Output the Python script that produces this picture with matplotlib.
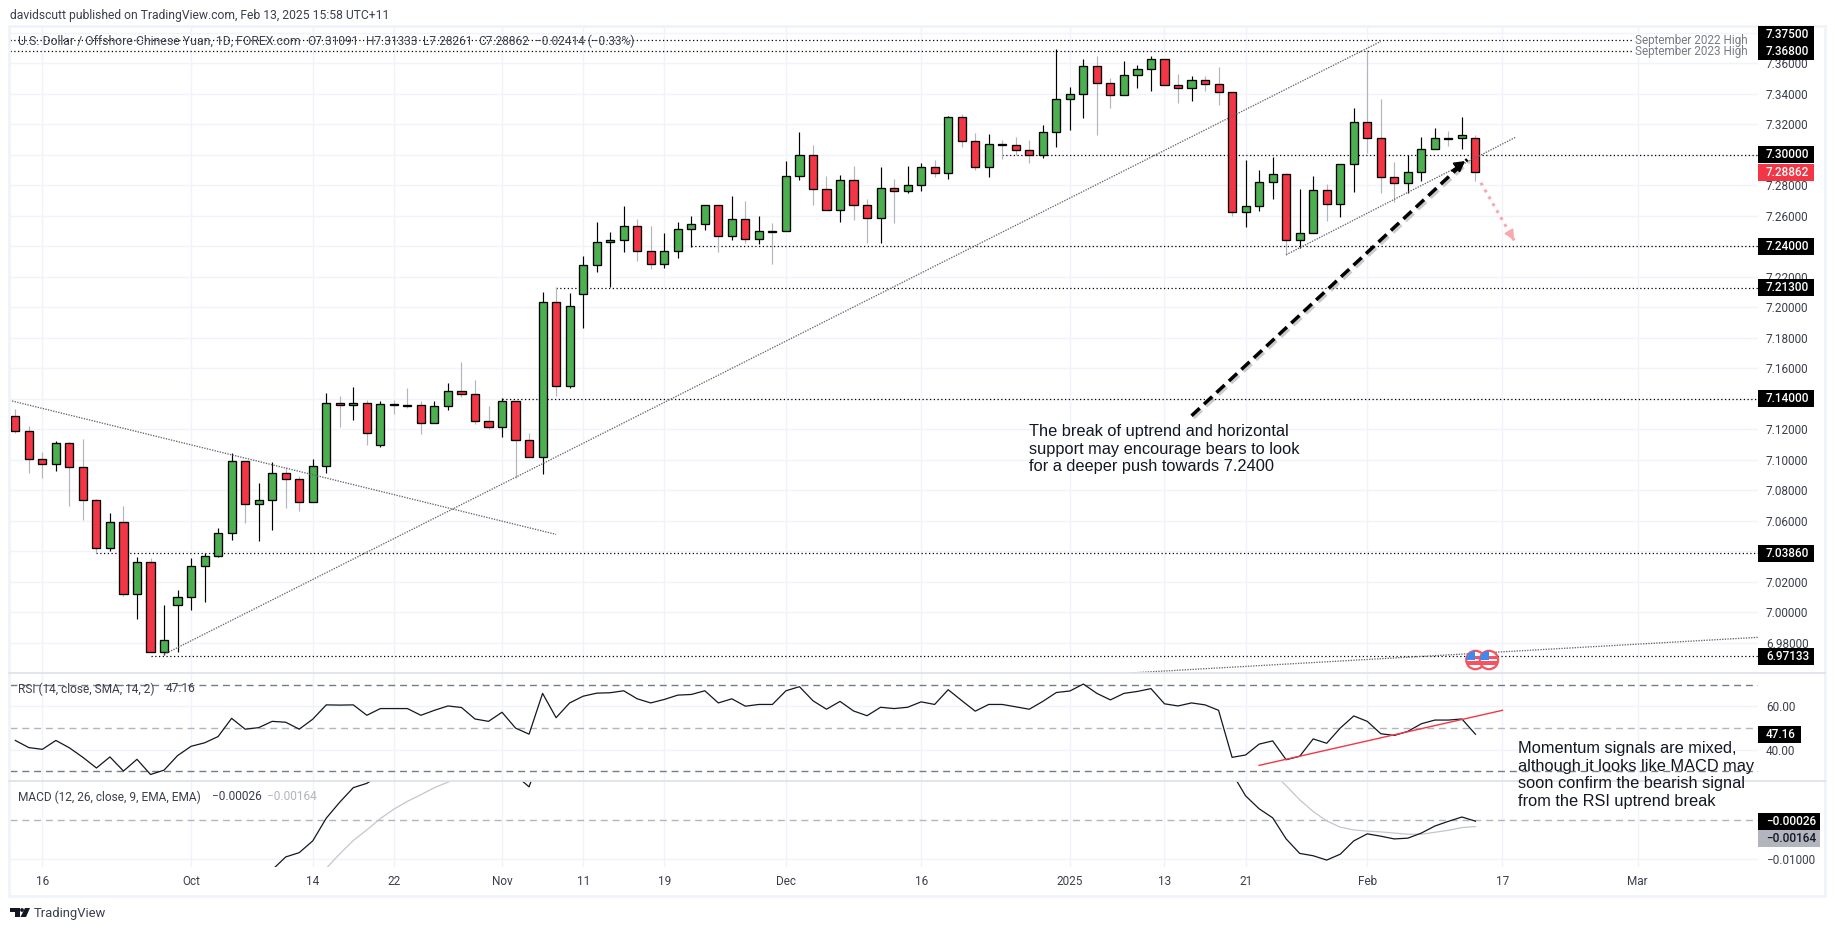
import numpy as np
import matplotlib
matplotlib.use("Agg")
import matplotlib.pyplot as plt
import matplotlib.patheffects as pe
from matplotlib.lines import Line2D
from matplotlib.patches import Rectangle, Circle, Polygon
from matplotlib.transforms import IdentityTransform

plt.rcParams["font.family"] = ["Roboto", "DejaVu Sans"]

# daily candles, index 0 is 16 Sep 2024
days = list(range(-2, 107))
opens = [7.1285, 7.1187, 7.1003, 7.0970, 7.1108, 7.0951, 7.0734, 7.0420, 7.0590, 7.0118, 7.0328,
         6.9737, 7.0046, 7.0098, 7.0301, 7.0367, 7.0518, 7.0990, 7.0708, 7.0734, 7.0911, 7.0872,
         7.0721, 7.0957, 7.1370, 7.1362, 7.1370, 7.1095, 7.1364, 7.1357, 7.1357, 7.1239, 7.1351,
         7.1449, 7.1429, 7.1252, 7.1213, 7.1383, 7.1128, 7.1016, 7.2032, 7.1482, 7.2089, 7.2275,
         7.2426, 7.2439, 7.2531, 7.2367, 7.2282, 7.2367, 7.2511, 7.2544, 7.2669, 7.2465, 7.2577,
         7.2446, 7.2500, 7.2498, 7.2859, 7.2997, 7.2774, 7.2636, 7.2833, 7.2669, 7.2583, 7.2780,
         7.2761, 7.2800, 7.2918, 7.2879, 7.3246, 7.3088, 7.2918, 7.3069, 7.3062, 7.3029, 7.3001,
         7.3147, 7.3364, 7.3397, 7.3580, 7.3469, 7.3390, 7.3521, 7.3561, 7.3626, 7.3456, 7.3436,
         7.3488, 7.3462, 7.3410, 7.2623, 7.2662, 7.2819, 7.2872, 7.2439, 7.2485, 7.2767, 7.2675,
         7.2937, 7.3213, 7.3108, 7.2852, 7.2813, 7.2885, 7.3036, 7.3108, 7.3108, 7.31091]
highs = [7.1333, 7.1222, 7.1051, 7.1121, 7.1115, 7.1136, 7.0743, 7.0651, 7.0697, 7.0361, 7.0354,
         7.0046, 7.0144, 7.0354, 7.0391, 7.0551, 7.1042, 7.0990, 7.0846, 7.0983, 7.0955, 7.0894,
         7.1003, 7.1436, 7.1418, 7.1475, 7.1390, 7.1386, 7.1390, 7.1471, 7.1386, 7.1386, 7.1501,
         7.1639, 7.1523, 7.1353, 7.1403, 7.1383, 7.1174, 7.2098, 7.2131, 7.2091, 7.2334, 7.2557,
         7.2491, 7.2662, 7.2577, 7.2531, 7.2485, 7.2559, 7.2597, 7.2669, 7.2669, 7.2728, 7.2695,
         7.2597, 7.2551, 7.2959, 7.3147, 7.3062, 7.2861, 7.2865, 7.2927, 7.2708, 7.2920, 7.2839,
         7.2927, 7.2944, 7.2964, 7.3255, 7.3265, 7.3143, 7.3134, 7.3095, 7.3115, 7.3095, 7.3193,
         7.3692, 7.3442, 7.3626, 7.3646, 7.3501, 7.3613, 7.3587, 7.3646, 7.3626, 7.3528, 7.3515,
         7.3515, 7.3574, 7.3410, 7.2964, 7.2898, 7.2986, 7.2878, 7.2774, 7.2859, 7.2806, 7.2937,
         7.3305, 7.3687, 7.3364, 7.2951, 7.2996, 7.3114, 7.3174, 7.3156, 7.3246, 7.31333]
lows = [7.1176, 7.0916, 7.0883, 7.0929, 7.0699, 7.0605, 7.0387, 7.0404, 7.0109, 6.9958, 6.9737,
        6.9718, 6.9742, 7.0017, 7.0070, 7.0361, 7.0476, 7.0588, 7.0470, 7.0542, 7.0686, 7.0667,
        7.0721, 7.0916, 7.1217, 7.1263, 7.1097, 7.1086, 7.1302, 7.1342, 7.1171, 7.1239, 7.1329,
        7.1414, 7.1237, 7.1204, 7.1152, 7.0878, 7.1016, 7.0907, 7.1418, 7.1471, 7.1864, 7.2234,
        7.2131, 7.2365, 7.2306, 7.2253, 7.2260, 7.2326, 7.2398, 7.2509, 7.2365, 7.2441, 7.2422,
        7.2417, 7.2286, 7.2498, 7.2837, 7.2673, 7.2636, 7.2562, 7.2575, 7.2424, 7.2424, 7.2555,
        7.2752, 7.2765, 7.2857, 7.2844, 7.3053, 7.2903, 7.2857, 7.2975, 7.2997, 7.2948, 7.2981,
        7.3053, 7.3165, 7.3241, 7.3132, 7.3309, 7.3390, 7.3440, 7.3421, 7.3456, 7.3342, 7.3355,
        7.3421, 7.3329, 7.2599, 7.2529, 7.2634, 7.2712, 7.2345, 7.2387, 7.2485, 7.2568, 7.2594,
        7.2758, 7.3010, 7.2752, 7.2693, 7.2752, 7.2830, 7.3036, 7.3058, 7.3040, 7.28261]
closes = [7.1187, 7.1003, 7.0970, 7.1108, 7.0951, 7.0734, 7.0420, 7.0590, 7.0118, 7.0328, 6.9737,
          6.9816, 7.0098, 7.0301, 7.0367, 7.0518, 7.0990, 7.0708, 7.0734, 7.0911, 7.0872, 7.0721,
          7.0957, 7.1370, 7.1362, 7.1370, 7.1174, 7.1364, 7.1362, 7.1355, 7.1239, 7.1351, 7.1449,
          7.1429, 7.1252, 7.1213, 7.1383, 7.1128, 7.1016, 7.2032, 7.1482, 7.2006, 7.2275, 7.2426,
          7.2439, 7.2531, 7.2367, 7.2282, 7.2367, 7.2511, 7.2544, 7.2669, 7.2465, 7.2577, 7.2446,
          7.2498, 7.2496, 7.2859, 7.2997, 7.2774, 7.2636, 7.2833, 7.2669, 7.2583, 7.2780, 7.2761,
          7.2800, 7.2918, 7.2879, 7.3246, 7.3088, 7.2918, 7.3069, 7.3066, 7.3029, 7.3001, 7.3147,
          7.3364, 7.3397, 7.3580, 7.3469, 7.3390, 7.3521, 7.3561, 7.3626, 7.3456, 7.3436, 7.3488,
          7.3462, 7.3410, 7.2623, 7.2662, 7.2819, 7.2872, 7.2439, 7.2485, 7.2767, 7.2675, 7.2937,
          7.3213, 7.3108, 7.2852, 7.2813, 7.2885, 7.3036, 7.3108, 7.3105, 7.3128, 7.28862]

rsi = [44.3, 41.0, 40.2, 44.3, 40.9, 36.5, 31.6, 36.7, 30.2, 35.6, 28.6, 30.6, 37.3, 41.6, 43.2,
       46.1, 54.5, 49.5, 50.2, 53.1, 52.7, 49.5, 54.1, 60.7, 60.6, 60.7, 55.9, 59.0, 59.0, 59.0,
       55.9, 58.2, 60.2, 59.5, 54.2, 53.1, 57.3, 50.0, 47.2, 66.0, 54.8, 61.6, 64.7, 66.1, 66.3,
       67.2, 63.5, 61.6, 63.2, 65.2, 65.5, 67.2, 61.6, 63.5, 60.1, 60.9, 60.9, 67.2, 69.1, 62.6,
       58.7, 62.3, 57.9, 55.7, 59.6, 59.0, 59.6, 62.1, 60.9, 67.7, 62.7, 57.8, 60.9, 60.9, 59.8,
       58.7, 62.3, 66.4, 67.1, 70.3, 66.0, 63.0, 66.0, 66.9, 68.2, 61.2, 60.2, 61.6, 60.7, 58.2,
       36.5, 37.6, 42.6, 44.1, 35.4, 37.0, 45.0, 43.0, 50.0, 55.6, 53.1, 47.4, 46.6, 48.5, 52.0,
       53.7, 53.7, 54.2, 47.16]

# macd runs off the top of its pane for long stretches, only the visible parts are read
macd_days_a = [15, 16, 17, 18, 19, 20, 21, 22, 23, 24, 25, 26]
macd_a = [-0.0179, -0.0153, -0.0127, -0.0094, -0.0083, -0.0053, 0.0005, 0.0046, 0.0083, 0.0094, 0.0116, 0.0135]
macd_days_b = [34, 35, 36, 37]
macd_b = [0.0125, 0.0115, 0.0085, 0.0184]
macd_days_c = [87, 88, 89, 90, 91, 92, 93, 94, 95, 96, 97, 98, 99, 100, 101, 102, 103, 104, 105, 106]
macd_c = [0.0180, 0.0120, 0.0062, 0.0029, 0.0006, -0.0048, -0.0085, -0.0091, -0.0102, -0.0087, -0.0053,
          -0.0035, -0.0041, -0.0048, -0.0046, -0.0033, -0.0015, -0.0003, 0.0008, -0.00026]
signal_days_a = [20, 21, 22, 23, 24, 25, 26, 27, 28, 29, 30, 31]
signal_a = [-0.0162, -0.0123, -0.0086, -0.0052, -0.0025, 0.0004, 0.0028, 0.0048, 0.0065, 0.0083, 0.0097, 0.0112]
signal_days_b = [91, 92, 93, 94, 95, 96, 97, 98, 99, 100, 101, 102, 103, 104, 105, 106]
signal_b = [0.0120, 0.0088, 0.0052, 0.0022, -0.0002, -0.0018, -0.0025, -0.0028, -0.0030, -0.0033,
            -0.0036, -0.0036, -0.0031, -0.0026, -0.0019, -0.00164]

level_prices = [7.375, 7.368, 7.30, 7.24, 7.213, 7.14, 7.0386, 6.97133]
level_starts = [-2.43, -2.43, 71, 48, 38, 34, 4, 8]
level_labels = ["7.37500", "7.36800", "7.30000", "7.24000", "7.21300", "7.14000", "7.03860", "6.97133"]

# trendlines as (day, price) pairs
down_days = [-2.43, 38]
down_prices = [7.1390, 7.0511]
up_days = [9, 99]
up_prices = [6.9724, 7.3744]
short_days = [92, 109]
short_prices = [7.2345, 7.3117]
long_days = [80.4, 126.9]
long_prices = [6.9602, 6.9836]
rsi_trend_days = [90, 108]
rsi_trend = [32.8, 58.2]
arrow_days = [85.0, 105.4]
arrow_prices = [7.1289, 7.2970]
pink_days = [106.4, 108.96]
pink_prices = [7.2817, 7.2424]

tick_days = [0, 11, 20, 26, 34, 40, 46, 55, 65, 76, 83, 89, 98, 108, 118]
tick_labels = ["16", "Oct", "14", "22", "Nov", "11", "19", "Dec", "16", "2025", "13", "21", "Feb", "17", "Mar"]
price_ticks = [6.98, 7.00, 7.02, 7.04, 7.06, 7.08, 7.10, 7.12, 7.14, 7.16, 7.18, 7.20, 7.22, 7.24, 7.26,
               7.28, 7.30, 7.32, 7.34, 7.36, 7.38]
# these ticks sit right under a level box in the picture, so they show no text of their own
hidden_ticks = [7.04, 7.14, 7.24, 7.30, 7.38]

W, H = 1835, 931
left, right = 9.5, 1758
main_top, main_bot = 26, 673
rsi_bot = 781
macd_bot = 867
xlim = (-2.43, 126.9)

green = "#4caf50"
red = "#f23645"
grey = "#b2b5be"
grid = "#f0f3fa"
txt = "#3b3f4c"

fig = plt.figure(figsize=(W / 100, H / 100), dpi=100, facecolor="white")


def make_axes(top, bot):
	ax = fig.add_axes([left / W, 1 - bot / H, (right - left) / W, (bot - top) / H])
	for s in ax.spines.values():
		s.set_visible(False)
	ax.set_xlim(*xlim)
	ax.set_xticks(tick_days)
	ax.set_xticklabels(tick_labels)
	ax.yaxis.tick_right()
	ax.tick_params(axis="y", length=0, pad=5.6, labelsize=8.5, labelcolor=txt)
	ax.tick_params(axis="x", length=0, pad=5.5, labelsize=8.5, labelcolor=txt)
	ax.grid(True, color=grid, lw=1)
	ax.set_axisbelow(True)
	return ax


ax = make_axes(main_top, main_bot)
ax_rsi = make_axes(main_bot, rsi_bot)
ax_macd = make_axes(rsi_bot, macd_bot)

# main pane
ax.set_ylim(6.9602, 7.3845)
ax.set_yticks(price_ticks)
ax.set_yticklabels(["" if p in hidden_ticks else "%.5f" % p for p in price_ticks])
ax.tick_params(axis="x", labelbottom=False)

days_arr = np.array(days)
o = np.array(opens)
c = np.array(closes)
is_up = c >= o
ax.vlines(days_arr[is_up], np.array(lows)[is_up], np.array(highs)[is_up], color="black", lw=0.85, zorder=3)
ax.vlines(days_arr[~is_up], np.array(lows)[~is_up], np.array(highs)[~is_up], color=grey, lw=0.85, zorder=3)
ax.bar(days_arr, np.abs(c - o), bottom=np.minimum(o, c), width=0.6,
       color=[green if u else red for u in is_up], edgecolor="black", lw=0.95, zorder=4)

for p, s in zip(level_prices, level_starts):
	end = 125.0 if p in (7.375, 7.368) else xlim[1]
	ax.plot([s, end], [p, p], color="black", lw=0.9, ls=(0, (1, 2)), zorder=2)

trend_style = dict(color="#666666", lw=0.95, ls=(0, (1, 1)), zorder=5)
ax.plot(down_days, down_prices, **trend_style)
ax.plot(up_days, up_prices, **trend_style)
ax.plot(short_days, short_prices, **trend_style)
ax.plot(long_days, long_prices, **trend_style)

# black dashed arrow with a soft shadow
ax.plot(arrow_days, arrow_prices, color="black", lw=2.5, ls=(0, (3.2, 1.7)), zorder=6, solid_capstyle="butt",
        path_effects=[pe.SimpleLineShadow(offset=(1.5, -1.5), shadow_color="#999999", alpha=0.5), pe.Normal()])
ax.annotate("", xy=(arrow_days[1], arrow_prices[1]),
            xytext=(arrow_days[1] - 1.3, arrow_prices[1] - 0.0085),
            arrowprops=dict(arrowstyle="-|>,head_length=0.6,head_width=0.34", color="black", lw=1.5), zorder=6)

# pink dotted arrow
ax.plot(pink_days, pink_prices, color="#f7a9ae", lw=2.2, ls=(0, (1, 1.6)), zorder=6)
ax.annotate("", xy=(pink_days[1], pink_prices[1]),
            xytext=(pink_days[1] - 0.55, pink_prices[1] + 0.0085),
            arrowprops=dict(arrowstyle="-|>,head_length=0.6,head_width=0.3", color="#f7a9ae", lw=1.2), zorder=6)

# rsi pane
ax_rsi.set_ylim(25.6, 75.4)
ax_rsi.set_yticks([40, 60])
ax_rsi.set_yticklabels(["40.00", "60.00"])
ax_rsi.tick_params(axis="x", labelbottom=False)
ax_rsi.axhline(70, color="#787b86", lw=1, ls=(0, (5, 3.5)), zorder=2)
ax_rsi.axhline(30, color="#787b86", lw=1, ls=(0, (5, 3.5)), zorder=2)
ax_rsi.axhline(50, color=grey, lw=1, ls=(0, (5, 3.5)), zorder=2)
ax_rsi.plot(days, rsi, color="#131722", lw=0.9, zorder=3)
ax_rsi.plot(rsi_trend_days, rsi_trend, color=red, lw=1.0, zorder=4)

# macd pane
ax_macd.set_ylim(-0.01197, 0.01)
ax_macd.set_yticks([-0.01])
ax_macd.set_yticklabels(["\u22120.01000"])
ax_macd.axhline(0, color=grey, lw=1, ls=(0, (5, 3.5)), zorder=2)
ax_macd.plot(signal_days_a, signal_a, color="#c4c6cc", lw=0.9, zorder=3)
ax_macd.plot(signal_days_b, signal_b, color="#c4c6cc", lw=0.9, zorder=3)
ax_macd.plot(macd_days_a, macd_a, color="#131722", lw=0.9, zorder=4)
ax_macd.plot(macd_days_b, macd_b, color="#131722", lw=0.9, zorder=4)
ax_macd.plot(macd_days_c, macd_c, color="#131722", lw=0.9, zorder=4)

pixel = IdentityTransform()


def add_shape(patch, z=5):
	patch.set_transform(pixel)
	patch.set_zorder(z)
	fig.add_artist(patch)
	return patch


def y_of(a, value):
	return H - a.transData.transform((0, value))[1]


def put_text(x, y, s, **kw):
	kw.setdefault("color", txt)
	kw.setdefault("fontsize", 8.5)
	kw.setdefault("va", "center")
	kw.setdefault("zorder", 7)
	return fig.text(x / W, 1 - y / H, s, **kw)


def value_box(a, value, label, width=56, shift=0, fc="black", tc="white"):
	y = y_of(a, value) + shift
	add_shape(Rectangle((right, H - y - 8.5), width, 17, fc=fc, ec="none"))
	put_text(right + 8, y, label, color=tc, fontweight="medium", family="Roboto")


# frame and pane separators
add_shape(Rectangle((9, H - 896), 1816, 870, fc="none", ec="#f0f3fa", lw=2), z=1)
for y in (main_bot, rsi_bot):
	fig.add_artist(Line2D([9, 1825], [H - y, H - y], transform=pixel, color="#e0e3eb", lw=1.3, zorder=2))

# price labels on the right
shifts = {7.375: -6.0, 7.368: 0.6}
for p, lab in zip(level_prices, level_labels):
	value_box(ax, p, lab, shift=shifts.get(p, 0))
value_box(ax, closes[-1], "7.28862", fc=red)
value_box(ax_rsi, rsi[-1], "47.16", width=42.5)
value_box(ax_macd, macd_c[-1], "\u22120.00026", width=62, shift=0.5)
value_box(ax_macd, signal_b[-1], "\u22120.00164", width=62, shift=12, fc=grey, tc="#131722")

# level names
for p, name in zip([7.375, 7.368], ["September 2022 High", "September 2023 High"]):
	y = y_of(ax, p)
	add_shape(Rectangle((1633, H - y - 6), 118, 12, fc="white", ec="none"), z=4)
	put_text(1635, y, name, color="#787b86", fontsize=8.5)

# headers
put_text(9.5, 15, "davidscutt published on TradingView.com, Feb 13, 2025 15:58 UTC+11", fontsize=8.7)
put_text(18, 41.5, "U.S. Dollar / Offshore Chinese Yuan, 1D, FOREX.com", fontsize=8.8)
put_text(307.5, 41.5, "O7.31091", fontsize=8.6)
put_text(365.5, 41.5, "H7.31333", fontsize=8.6)
put_text(422.5, 41.5, "L7.28261", fontsize=8.6)
put_text(478, 41.5, "C7.28862", fontsize=8.6)
put_text(535, 41.5, "\u22120.02414 (\u22120.33%)", fontsize=8.6)
put_text(18, 689, "RSI (14, close, SMA, 14, 2)", fontsize=8.6)
put_text(166, 689, "47.16", fontsize=8.6)
put_text(18, 797, "MACD (12, 26, close, 9, EMA, EMA)", fontsize=8.6)
put_text(211.5, 797, "\u22120.00026", fontsize=8.6)
put_text(267, 797, "\u22120.00164", fontsize=8.6, color=grey)

# commentary
note_font = ["Liberation Sans", "DejaVu Sans"]
put_text(1029, 449,
         "The break of uptrend and horizontal\nsupport may encourage bears to look\nfor a deeper push towards 7.2400",
         family=note_font, fontsize=11.8, color="#131722", linespacing=1.22)
put_text(1518.3, 775,
         "Momentum signals are mixed,\nalthough it looks like MACD may\nsoon confirm the bearish signal\nfrom the RSI uptrend break",
         family=note_font, fontsize=11.8, color="#131722", linespacing=1.22)

# event flags
for d in (106, 107):
	cx = ax.transData.transform((d, 6.9687))[0]
	cy = H - 660
	ring = add_shape(Circle((cx, cy), 9.2, fc="white", ec="#f7525f", lw=1.6), z=5)
	for rect in (Rectangle((cx - 9, cy), 9, 9, fc="#3d8bf2", ec="none"),
	             Rectangle((cx, cy + 1), 9, 3, fc="#f7525f", ec="none"),
	             Rectangle((cx - 9, cy - 5), 18, 4, fc="#f7525f", ec="none")):
		add_shape(rect, z=5.1)
		rect.set_clip_path(ring)

# logo
add_shape(Polygon([(9.5, H - 908), (20, H - 908), (20, H - 917), (15, H - 917), (15, H - 912), (9.5, H - 912)],
                  fc="#131722", ec="none"))
add_shape(Circle((22, H - 910), 1.9, fc="#131722", ec="none"))
add_shape(Polygon([(25, H - 908), (30, H - 908), (26, H - 917), (20.5, H - 917)], fc="#131722", ec="none"))
put_text(33.6, 913.5, "TradingView", fontsize=9.4, color="#3b3f4c")

plt.savefig("out.png", dpi=100)
print("saved figure: out.png")
